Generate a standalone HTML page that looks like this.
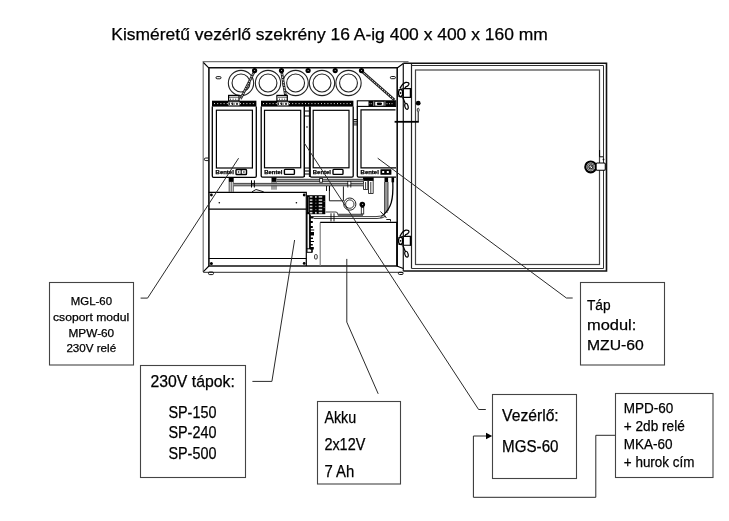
<!DOCTYPE html>
<html><head><meta charset="utf-8">
<style>
html,body{margin:0;padding:0;background:#fff;width:729px;height:521px;overflow:hidden}
svg{display:block;will-change:transform}
text{font-family:"Liberation Sans",sans-serif;fill:#000;stroke:#000;stroke-width:0.25}
</style></head><body>
<svg width="729" height="521" viewBox="0 0 729 521">
<rect width="729" height="521" fill="#fff"/>
<!-- TITLE -->
<text x="111.3" y="39.9" font-size="17" textLength="436.5" lengthAdjust="spacingAndGlyphs">Kisméretű vezérlő szekrény 16 A-ig 400 x 400 x 160 mm</text>

<!-- CABINET -->
<g id="cab" fill="none" stroke="#000" stroke-width="1">
  <!-- body outer -->
  <path d="M203.2,272 V61.6 H408.5" stroke="#777" stroke-width="1.2"/>
  <path d="M203.2,272.3 H403.3" stroke="#555" stroke-width="1.2"/>
  <path d="M403.3,63.5 V271" stroke="#222" stroke-width="1.3"/>
  <!-- inner frame -->
  <path d="M208.9,266 V67.8 H397.2 V266 Z" stroke="#111" stroke-width="1.6"/>
  <path d="M203.4,62.5 L208.7,67.8 M203.4,271.6 L208.9,266 M397.2,68 L403.3,63.5 M396.8,266 L403.3,268.6" stroke-width="1.1"/>
</g>
<!-- DOOR -->
<g id="door" fill="none" stroke="#000">
  <path d="M403.3,271 H606.5 V63.2 H403.3" stroke="#111" stroke-width="1.6"/>
  <path d="M411.5,64 V268.5" stroke="#222" stroke-width="1.2"/>
  <path d="M411.5,65.5 H603.5 V268.5 H411.5" stroke="#333" stroke-width="1"/>
  <rect x="415.5" y="70" width="184" height="194.5" stroke="#444" stroke-width="1.2"/>
</g>
<!-- INTERIOR -->
<g id="interior" fill="none" stroke="#000" stroke-width="1">
  <!-- slots -->
  <rect x="216" y="76.6" width="5" height="2.2" rx="1.1" stroke-width="0.9"/>
  <rect x="390.4" y="76.5" width="5" height="2.2" rx="1.1" stroke-width="0.9"/>
  <!-- rings -->
  <g stroke-width="1.1" stroke="#222">
    <circle cx="241" cy="83" r="12.65"/><circle cx="241" cy="83" r="8.95"/>
    <circle cx="268" cy="83" r="12.65"/><circle cx="268" cy="83" r="8.95"/>
    <circle cx="295.6" cy="83" r="12.65"/><circle cx="295.6" cy="83" r="8.95"/>
    <circle cx="322" cy="83" r="12.65"/><circle cx="322" cy="83" r="8.95"/>
    <circle cx="348.5" cy="83" r="12.65"/><circle cx="348.5" cy="83" r="8.95"/>
  </g>
  <!-- cables -->
  <g stroke="#1a1a1a" stroke-width="2.6">
    <path d="M254.6,71 L240.5,99"/>
    <path d="M281.5,71 L286.4,101"/>
    <path d="M361.5,71 L394.5,100"/>
  </g>
  <g stroke="#fff" stroke-width="0.9" stroke-dasharray="1.6 1.1">
    <path d="M254.6,71 L240.5,99"/>
    <path d="M281.5,71 L286.4,101"/>
    <path d="M361.5,71 L394.5,100"/>
  </g>
  <!-- screws -->
  <g fill="#000" stroke="none">
    <circle cx="254.6" cy="70.6" r="2.6"/><circle cx="281.5" cy="70.6" r="2.6"/>
    <circle cx="308.1" cy="70.5" r="2.6"/><circle cx="335.2" cy="70.6" r="2.6"/>
    <circle cx="361.5" cy="70.6" r="2.6"/>
  </g>
  <g fill="#ddd" stroke="none">
    <circle cx="254.6" cy="70.6" r="0.5"/><circle cx="281.5" cy="70.6" r="0.5"/>
    <circle cx="308.1" cy="70.5" r="0.5"/><circle cx="335.2" cy="70.6" r="0.5"/>
    <circle cx="361.5" cy="70.6" r="0.5"/>
  </g>
  <!-- terminal blocks on modules -->
  <rect x="228.6" y="95.4" width="10.4" height="5.6" fill="#fff" stroke="#000" stroke-width="1.2"/>
  <rect x="276.9" y="95.4" width="10.4" height="5.6" fill="#fff" stroke="#000" stroke-width="1.2"/>
  <path d="M229,97.2 H238.6 M278,97.2 H287.6" stroke="#000" stroke-width="0.7"/>
  <path d="M230,99.2 H238 M279,99.2 H287" stroke="#000" stroke-width="0.9" stroke-dasharray="1 1.6"/>

  <!-- module strips -->
  <g fill="#000" stroke="none">
    <rect x="212" y="100.7" width="44.4" height="5.9"/>
    <rect x="261" y="100.7" width="92.4" height="5.9"/>
  </g>
  <g stroke="#fff" stroke-width="0.9" stroke-dasharray="1 2.2">
    <path d="M214,103.6 H228 M240,103.6 H255"/>
    <path d="M263,103.6 H277 M289,103.6 H352"/>
  </g>
  <g fill="#fff" stroke="none">
    <rect x="228.5" y="101.8" width="11" height="3.6"/>
    <rect x="277.5" y="101.8" width="11" height="3.6"/>
  </g>
  <path d="M229.5,102.3 V105 M231,102.3 L232.5,105 V102.3 M234,102.3 V105 M236,102.3 L237,105 L238,102.3 M278.5,102.3 V105 M280,102.3 L281.5,105 V102.3 M283,102.3 V105 M285,102.3 L286,105 L287,102.3" stroke="#000" stroke-width="0.8"/>
  <!-- module 4 strip -->
  <rect x="357.3" y="100.8" width="38.4" height="5.6" stroke-width="1.1"/>
  <rect x="368.5" y="101" width="5" height="5.4" fill="#000" stroke="none"/>
  <path d="M369.5,103.7 H372.5" stroke="#fff" stroke-width="0.7" stroke-dasharray="0.8 0.8"/>
  <rect x="374.7" y="101.3" width="9.4" height="4.8" fill="#fff" stroke="#000" stroke-width="1"/>
  <rect x="376.8" y="102.4" width="5.2" height="2.6" rx="1.2" fill="#000" stroke="none"/>
  <rect x="385.3" y="101" width="10" height="5.4" fill="#000" stroke="none"/>
  <path d="M386.5,103.7 H394" stroke="#fff" stroke-width="0.8" stroke-dasharray="1 1.5"/>
  <!-- module bodies -->
  <g stroke-width="1.3">
    <path d="M212.3,106.5 V176 Q212.3,177.3 213.6,177.3 H255 Q256.3,177.3 256.3,176 V106.5"/>
    <path d="M261.2,106.5 V176 Q261.2,177.1 262.5,177.1 H303 Q304.2,177.1 304.2,176 V106.5"/>
    <path d="M310.2,106.5 V176 Q310.2,177.1 311.5,177.1 H352 Q353.2,177.1 353.2,176 V106.5"/>
    <path d="M357.3,106.5 V176 Q357.3,177.1 358.6,177.1 H396"/>
  </g>
  <g stroke-width="1.2">
    <rect x="216.4" y="110.2" width="36" height="57.8"/>
    <rect x="264.5" y="110.3" width="36.2" height="57.5"/>
    <rect x="313.2" y="110.3" width="35.8" height="57.5"/>
    <path d="M395.5,109.8 H361 V167.8 H396"/>
  </g>
  <!-- logos -->
  <g style="font-family:'Liberation Sans',sans-serif;font-weight:bold;font-size:5.2px;fill:#000;stroke:#000;stroke-width:0.45">
    <text x="215.6" y="173.9" textLength="18.2" lengthAdjust="spacingAndGlyphs">Bentel</text>
    <text x="264.2" y="173.9" textLength="18.2" lengthAdjust="spacingAndGlyphs">Bentel</text>
    <text x="312.8" y="173.9" textLength="18.2" lengthAdjust="spacingAndGlyphs">Bentel</text>
    <text x="360.6" y="173.9" textLength="18.2" lengthAdjust="spacingAndGlyphs">Bentel</text>
  </g>
  <rect x="380.4" y="169.2" width="11" height="5.6" rx="0.6" fill="#000" stroke="none"/>
  <g fill="#fff" stroke="none">
    <rect x="382.2" y="171" width="2" height="2"/><rect x="386.8" y="171" width="2" height="2"/>
  </g>
  <g stroke-width="1.4">
    <rect x="236" y="169.5" width="10.5" height="5" rx="0.8"/>
    <path d="M241.2,169.5 V174.5" stroke-width="1.1"/>
    <rect x="284.4" y="169.4" width="10" height="5" rx="0.8"/>
    <rect x="333" y="169.4" width="10" height="5" rx="0.8"/>
  </g>
  <g fill="#000" stroke="none">
    <circle cx="238.6" cy="172" r="0.8"/><circle cx="243.9" cy="172" r="0.8"/>
  </g>
  <!-- DIN element between M2 and M3 -->
  <g stroke-width="1">
    <path d="M304.5,106.5 V177 M309.4,106.5 V177"/>
    <path d="M304.5,111 H309.4 M304.5,116 H309.4 M304.5,168 H309.4 M304.5,171 H309.4 M304.5,174 H309.4"/>
  </g>
  <circle cx="307" cy="127" r="0.8" fill="#000" stroke="none"/>
  <!-- ribbed element M3-M4 -->
  <path d="M353.5,119.5 H357 M353.5,121.3 H357 M353.5,123.1 H357 M353.5,124.9 H357" stroke-width="0.9"/>

  <!-- connectors below modules -->
  <g fill="#000" stroke="none">
    <rect x="228.7" y="177.3" width="5" height="4.6"/>
    <rect x="271.5" y="177.3" width="5" height="4.6"/>
    <rect x="363" y="177.3" width="10.7" height="3.6"/>
    <rect x="384.5" y="177.3" width="3.6" height="5"/>
    <rect x="391.5" y="177.3" width="2.6" height="5"/>
  </g>
  <g stroke-width="1">
    <path d="M229.2,182 V191.8 M233.2,182 V191.8 M231.2,182 V191.8" stroke="#444"/>
    <path d="M272,182 V189.7 M276,182 V189.7 M274,182 V189.7" stroke="#444"/>
    <path d="M363.5,180.5 V189.5 H367.8 V180.5 M368.5,180.5 V193.5 H373.2 V180.5 M365.6,182 V189 M370.8,182 V193" stroke="#222" stroke-width="0.9"/>
  </g>
  <!-- ducts -->
  <rect x="276.4" y="179.4" width="87" height="2.1" fill="#999" stroke="none"/>
  <rect x="233.6" y="183.6" width="129.8" height="2" fill="#999" stroke="none"/>
  <g stroke="#333" stroke-width="0.9">
    <path d="M276.4,179.3 H363.4 M276.4,181.6 H363.4"/>
    <path d="M233.6,183.4 H363.4 M233.6,185.8 H363.4"/>
  </g>
  <path d="M251.5,180.3 V187.5 M254.4,180.3 V187.5 M251.5,183.9 H254.4" stroke-width="1"/>
  <path d="M347.8,181 V187.5 M350.8,181 V187.5" stroke-width="0.8"/>
  <rect x="348.3" y="182.2" width="2" height="2.2" fill="#fff" stroke="none"/>
  <path d="M326.5,186 V191 M329.5,186 V191" stroke-width="0.9"/>
  <rect x="319.7" y="178.4" width="2.8" height="3.8" fill="#fff" stroke="#000" stroke-width="0.8"/>

  <!-- PSU -->
  <g stroke-width="1.2">
    <path d="M208.8,192.3 H306.3 V266"/>
    <path d="M208.8,209.2 H306.3"/>
    <path d="M208.8,258.5 H306.3"/>
  </g>
  <path d="M252,191.8 L256,189.5 L263.7,191.8" stroke-width="0.9"/>
  <g fill="#000" stroke="none">
    <circle cx="211.4" cy="195" r="1.4"/><circle cx="304.2" cy="195" r="1.4"/>
    <circle cx="211.4" cy="263.4" r="1.5"/><circle cx="304.2" cy="263.4" r="1.4"/>
    <circle cx="219.3" cy="202.8" r="0.8"/><circle cx="296.4" cy="202.8" r="0.8"/>
  </g>

  <!-- terminal grid -->
  <rect x="306.9" y="195.2" width="18.4" height="19" fill="#000" stroke="none"/>
  <path d="M308.6,197 V212" stroke="#888" stroke-width="0.6"/>
  <g fill="#ccc" stroke="none">
    <rect x="309.8" y="196.1" width="2.6" height="1.6"/><rect x="315" y="196.1" width="1.7" height="1.7"/><rect x="318.7" y="196.1" width="3.5" height="1.6"/><rect x="309.8" y="199.3" width="2.6" height="1.6"/><rect x="315.5" y="199.6" width="0.8" height="1"/><rect x="318.7" y="199.3" width="3.5" height="1.6"/><rect x="309.8" y="202.4" width="2.6" height="1.6"/><rect x="315.5" y="202.7" width="0.8" height="1"/><rect x="318.7" y="202.4" width="3.5" height="1.6"/><rect x="309.8" y="205.6" width="2.6" height="1.6"/><rect x="315.5" y="205.9" width="0.8" height="1"/><rect x="318.7" y="205.6" width="3.5" height="1.6"/><rect x="309.8" y="208.8" width="2.6" height="1.6"/><rect x="315.5" y="209.1" width="0.8" height="1"/><rect x="318.7" y="208.8" width="3.5" height="1.6"/><rect x="309.8" y="211.9" width="2.6" height="1.6"/><rect x="315" y="211.9" width="1.7" height="1.7"/><rect x="318.7" y="211.9" width="3.5" height="1.6"/>
  </g>
  <g fill="#777" stroke="none"><rect x="323.6" y="201" width="1" height="1"/><rect x="323.6" y="207" width="1" height="1"/></g>
  <!-- vertical DIN terminals -->
  <path d="M307,212.6 V249 M309.5,214 V249" stroke-width="1.1"/>
  <path d="M310.2,214.5 V249" stroke="#222" stroke-width="1.6"/>
  <g fill="#000" stroke="none">
    <path d="M310,216 h3.5 v2.5 h-3.5 Z M310,221 h2.8 v2 h-2.8 Z M310,226 h2.8 v2 h-2.8 Z M310,229.5 h4.2 v1 h-4.2 Z M310,232 h4 v3.5 h-4 Z M310,237.5 h3 v1.5 h-3 Z M310,241 h4 v1 h-4 Z M310,244 h2.8 v1.5 h-2.8 Z M310,247 h3.8 v2.5 h-3.8 Z"/>
  </g>
  <rect x="307" y="248.8" width="5" height="3.5" stroke-width="1"/>
  <path d="M312,249 V252.3" stroke-width="1.2"/>
  <rect x="314.6" y="254.6" width="2.6" height="4.4" rx="1" stroke-width="0.8"/>
  <!-- relay box -->
  <path d="M329.4,186.4 V200.8 H343.4 V186.4" stroke-width="0.9"/>
  <!-- toroid -->
  <circle cx="349.8" cy="204.1" r="6.1" stroke="#222" stroke-width="1"/>
  <circle cx="349.8" cy="204.1" r="4.2" stroke="#222" stroke-width="0.9"/>
  <circle cx="362.3" cy="204.6" r="2.8" fill="#000" stroke="none"/>
  <circle cx="362.6" cy="204.3" r="0.6" fill="#ccc" stroke="none"/>
  <rect x="361.3" y="207.5" width="2.4" height="6.5" fill="#fff" stroke="#222" stroke-width="0.9"/>
  <!-- lower duct -->
  <path d="M325.6,212 H336 Q337.3,212 337.8,214.2 H363" stroke="#444" stroke-width="1.1"/>
  <path d="M337.8,215.2 H363" stroke="#333" stroke-width="1.1"/>
  <path d="M310.8,216.6 H376 Q381,216.6 384.5,214.5 M313.7,218.5 H377 Q382.5,218.5 386,216" stroke="#333" stroke-width="0.95"/>
  <path d="M331,213.3 V221.4 M334,213.3 V221.4" stroke-width="0.9"/>
  <!-- right vertical duct & curved cable -->
  <rect x="384.6" y="182" width="3.4" height="31" fill="#999" stroke="none"/>
  <path d="M384.6,182 V213 M388,182 V211" stroke="#333" stroke-width="0.9"/>
  <path d="M392.8,182 C393.5,200 391,208 383.5,214.7" stroke-width="1.3"/>
  <path d="M380.5,211.5 L386.5,218 M386.5,211.5 L380.5,218" stroke-width="0.9"/>
  <path d="M386.3,219.5 H390.5 V221.5" stroke-width="0.9"/>

  <!-- battery -->
  <path d="M320.2,266 V222.4" stroke="#777" stroke-width="1.1"/>
  <path d="M320.2,222.4 H396.8 V266" stroke-width="1.2"/>

  <!-- cabinet bottom foot -->
  <rect x="208.5" y="272" width="5" height="2.6" rx="1.2" stroke-width="0.9"/>
  <rect x="398.4" y="272.3" width="4.7" height="2.2" rx="1.1" stroke-width="0.9"/>
  <!-- left side tab -->
  <path d="M208.3,158 H205.8 Q204.3,158 204.3,159.3 Q204.3,160.6 205.8,160.6 H208.3" stroke-width="0.9"/>
</g>

<!-- HINGE STRIP -->
<g fill="none" stroke="#000" stroke-width="1">
      <!-- hinges -->
  <g transform="translate(0,-147.8)">
    <path d="M403.3,236.4 H410.5 V245.2 H403.3" fill="#fff" stroke-width="1.1"/>
    <path d="M410.6,236 V245.6" stroke-width="1.6"/>
    <path d="M403.3,236.4 V245.2" stroke-width="1.2"/>
    <ellipse cx="400.6" cy="240.8" rx="2.1" ry="3.6" stroke-width="1.3"/>
    <path d="M398.5,237.5 L403,236.5 M398.5,244.2 L403,245" stroke-width="1.1"/>
    <circle cx="400.6" cy="240.8" r="0.9" fill="#000" stroke="none"/>
    <path d="M400,236.2 Q402.5,231 405.8,230.2 Q409.6,229.8 408.8,232.3 Q408,234 405.8,234.6 L404.6,236.3" stroke-width="1.3"/>
    <path d="M402.8,245.4 L405.2,251.2" stroke-width="1.3"/>
    <ellipse cx="406.5" cy="254.2" rx="1.6" ry="3" transform="rotate(-15 406.5 254.2)" stroke-width="1.2"/>
  </g>
  <g>
    <path d="M403.3,236.4 H410.5 V245.2 H403.3" fill="#fff" stroke-width="1.1"/>
    <path d="M410.6,236 V245.6" stroke-width="1.6"/>
    <path d="M403.3,236.4 V245.2" stroke-width="1.2"/>
    <ellipse cx="400.6" cy="240.8" rx="2.1" ry="3.6" stroke-width="1.3"/>
    <path d="M398.5,237.5 L403,236.5 M398.5,244.2 L403,245" stroke-width="1.1"/>
    <circle cx="400.6" cy="240.8" r="0.9" fill="#000" stroke="none"/>
    <path d="M400,236.2 Q402.5,231 405.8,230.2 Q409.6,229.8 408.8,232.3 Q408,234 405.8,234.6 L404.6,236.3" stroke-width="1.3"/>
    <path d="M402.8,245.4 L405.2,251.2" stroke-width="1.3"/>
    <ellipse cx="406.5" cy="254.2" rx="1.6" ry="3" transform="rotate(-15 406.5 254.2)" stroke-width="1.2"/>
  </g>
  <!-- knob and bar -->
  <circle cx="418.2" cy="103.2" r="2.4" fill="#000" stroke="none"/>
  <ellipse cx="418.2" cy="110" rx="1" ry="1.8" stroke-width="0.8"/>
  <path d="M418.2,112 V121.7" stroke-width="1"/>
  <rect x="394.6" y="120.9" width="24.2" height="1.8" fill="#000" stroke="none"/>
  <!-- door lock -->
  <circle cx="590.7" cy="166.9" r="5.4" stroke-width="2.2"/>
  <circle cx="590.7" cy="166.9" r="3.6" fill="#bbb" stroke="#333" stroke-width="0.8"/>
  <circle cx="590.9" cy="166.9" r="2" fill="#fff" stroke="#000" stroke-width="1"/>
  <path d="M589.5,168.2 L592,165.8" stroke-width="0.8"/>
  <rect x="596.1" y="163" width="9.2" height="7.3" rx="1" fill="#fff" stroke-width="1.1"/>
  <path d="M599.6,150 V156.8 H603.2" stroke-width="1"/>
  <circle cx="603.5" cy="159.5" r="0.9" fill="#000" stroke="none"/>
</g>

<!-- LEADERS -->
<g fill="none" stroke="#2a2a2a" stroke-width="1">
  <polyline points="140.6,298.1 147.6,298.1 238.6,158.2"/>
  <polyline points="252.4,381.4 271.9,381.4 294.6,240"/>
  <polyline points="378.2,393.8 346.8,322.1 346.8,258.9"/>
  <polyline points="485.8,409.5 478.6,409.5 304.4,143.2"/>
  <polyline points="572.7,298 566.4,298 377.7,158.2"/>
  <polyline points="615.7,435.3 595.8,435.3 595.8,497.3 473.4,497.3 473.4,436 487,436"/>
  <path d="M486,432.8 L492.2,436 L486,439.3 Z" fill="#000" stroke="none"/>
</g>

<!-- BOXES -->
<g fill="none" stroke="#444" stroke-width="1.1">
  <rect x="49.5" y="282.5" width="84" height="82.5"/>
  <rect x="140.5" y="365.5" width="105" height="112"/>
  <rect x="317.5" y="401.5" width="83" height="82.5"/>
  <rect x="492.5" y="394.5" width="84" height="84"/>
  <rect x="580.5" y="282.5" width="84" height="82.5"/>
  <rect x="615.5" y="393.5" width="97.5" height="84"/>
</g>

<!-- BOX TEXT -->
<g font-size="11">
  <text x="70.8" y="304.8" textLength="41.2" lengthAdjust="spacingAndGlyphs">MGL-60</text>
  <text x="53" y="320.6" textLength="76.2" lengthAdjust="spacingAndGlyphs">csoport modul</text>
  <text x="68.5" y="336.7" textLength="45.7" lengthAdjust="spacingAndGlyphs">MPW-60</text>
  <text x="66.4" y="351.8" textLength="49.7" lengthAdjust="spacingAndGlyphs">230V relé</text>
</g>
<g font-size="16.3">
  <text x="150.5" y="387.3" textLength="84.3" lengthAdjust="spacingAndGlyphs">230V tápok:</text>
  <text x="168.4" y="417.8" textLength="48" lengthAdjust="spacingAndGlyphs">SP-150</text>
  <text x="168.4" y="438.4" textLength="48" lengthAdjust="spacingAndGlyphs">SP-240</text>
  <text x="168.4" y="459" textLength="48" lengthAdjust="spacingAndGlyphs">SP-500</text>
</g>
<g font-size="16">
  <text x="324.4" y="422.6" textLength="31.8" lengthAdjust="spacingAndGlyphs">Akku</text>
  <text x="324.4" y="449.5" textLength="40.9" lengthAdjust="spacingAndGlyphs">2x12V</text>
  <text x="324.4" y="476.8" textLength="29.8" lengthAdjust="spacingAndGlyphs">7 Ah</text>
  <text x="502.1" y="421.4" textLength="56.6" lengthAdjust="spacingAndGlyphs">Vezérlő:</text>
  <text x="502.1" y="452.1" textLength="56.4" lengthAdjust="spacingAndGlyphs">MGS-60</text>
</g>
<g font-size="15.3">
  <text x="587" y="309.6" textLength="23.6" lengthAdjust="spacingAndGlyphs">Táp</text>
  <text x="587" y="330.2" textLength="49.3" lengthAdjust="spacingAndGlyphs">modul:</text>
  <text x="587" y="350.4" textLength="56.8" lengthAdjust="spacingAndGlyphs">MZU-60</text>
</g>
<g font-size="14.6">
  <text x="623.8" y="412.7" textLength="49.5" lengthAdjust="spacingAndGlyphs">MPD-60</text>
  <text x="623.8" y="430.7" textLength="61" lengthAdjust="spacingAndGlyphs">+ 2db relé</text>
  <text x="623.8" y="449.1" textLength="48.8" lengthAdjust="spacingAndGlyphs">MKA-60</text>
  <text x="623.8" y="466.8" textLength="70.7" lengthAdjust="spacingAndGlyphs">+ hurok cím</text>
</g>
</svg>
</body></html>
